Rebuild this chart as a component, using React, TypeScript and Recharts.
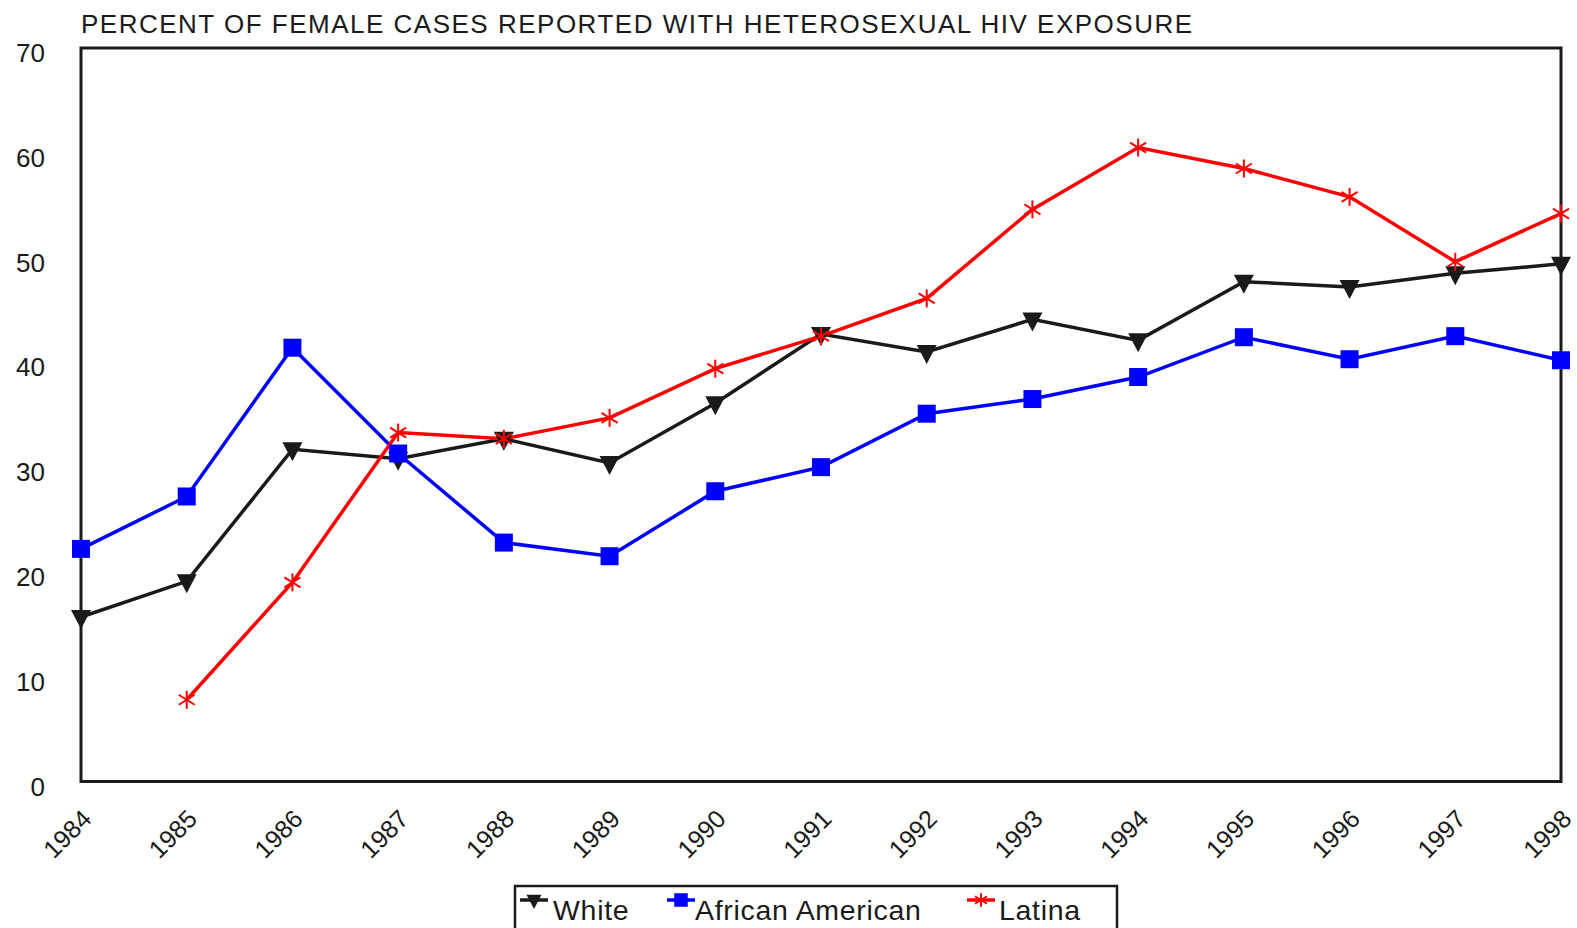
import { LineChart, Line, XAxis, YAxis, ReferenceArea } from "recharts";

const years = [
  "1984", "1985", "1986", "1987", "1988", "1989", "1990", "1991",
  "1992", "1993", "1994", "1995", "1996", "1997", "1998",
];
const white = [15.7, 19.1, 31.7, 30.8, 32.7, 30.4, 36.1, 42.7, 41.0, 44.1, 42.1, 47.7, 47.2, 48.5, 49.4];
const africanAmerican = [22.2, 27.2, 41.4, 31.3, 22.8, 21.5, 27.7, 30.0, 35.1, 36.5, 38.6, 42.4, 40.3, 42.5, 40.2];
const latina = [null, 7.8, 19.0, 33.3, 32.7, 34.7, 39.4, 42.5, 46.1, 54.6, 60.5, 58.5, 55.8, 49.6, 54.2];
const yTicks = [0, 10, 20, 30, 40, 50, 60, 70];

const title = "PERCENT OF FEMALE CASES REPORTED WITH HETEROSEXUAL HIV EXPOSURE";
const FONT = "'Liberation Sans', Arial, Helvetica, sans-serif";
const INK = "#1a1a1a";

const data = years.map((year, i) => ({
  year,
  white: white[i],
  africanAmerican: africanAmerican[i],
  latina: latina[i],
}));

type Marker = "triangle" | "square" | "star";

const series: { key: string; name: string; color: string; marker: Marker }[] = [
  { key: "white", name: "White", color: INK, marker: "triangle" },
  { key: "africanAmerican", name: "African American", color: "#0000ff", marker: "square" },
  { key: "latina", name: "Latina", color: "#ff0000", marker: "star" },
];

function drawMarker(kind: Marker, cx: number, cy: number, color: string, s = 1) {
  if (kind === "triangle") {
    return (
      <path
        d={`M${cx - 10 * s},${cy - 7 * s} L${cx + 10 * s},${cy - 7 * s} L${cx},${cy + 12 * s} Z`}
        fill={color}
      />
    );
  }
  if (kind === "square") {
    return <rect x={cx - 9 * s} y={cy - 9 * s} width={18 * s} height={18 * s} fill={color} />;
  }
  return (
    <g stroke={color} strokeWidth={2}>
      <line x1={cx} y1={cy - 9 * s} x2={cx} y2={cy + 9 * s} />
      <line x1={cx - 8 * s} y1={cy - 5 * s} x2={cx + 8 * s} y2={cy + 5 * s} />
      <line x1={cx - 8 * s} y1={cy + 5 * s} x2={cx + 8 * s} y2={cy - 5 * s} />
    </g>
  );
}

const makeDot = (kind: Marker, color: string) => (props: any) => {
  const { cx, cy, index, value } = props;
  if (value == null || cx == null || cy == null) return <g key={`e-${index}`} />;
  return <g key={`d-${index}`}>{drawMarker(kind, cx, cy, color)}</g>;
};

const XTick = ({ x, y, payload }: any) => {
  const px = x + 12;
  const py = y + 39;
  return (
    <text
      x={px}
      y={py}
      transform={`rotate(-45, ${px}, ${py})`}
      textAnchor="end"
      fontSize={25}
      fontFamily={FONT}
      fill={INK}
    >
      {payload.value}
    </text>
  );
};

const YTick = ({ x, y, payload }: any) => (
  <text x={x - 36} y={y + 14} textAnchor="end" fontSize={26} fontFamily={FONT} fill={INK}>
    {payload.value}
  </text>
);

const legendPos = [
  { icon: 520, text: 553 },
  { icon: 667, text: 695 },
  { icon: 967, text: 999 },
];

export default function App() {
  return (
    <div style={{ position: "absolute", left: 0, top: 0, width: 1577, height: 928, overflow: "hidden", background: "#fff" }}>
      <LineChart
        width={1577}
        height={928}
        data={data}
        margin={{ top: 48, right: 16, bottom: 0, left: 0 }}
      >
        <XAxis
          dataKey="year"
          scale="point"
          padding={{ left: 0, right: 0 }}
          height={146.5}
          tickSize={0}
          tickMargin={0}
          axisLine={false}
          tickLine={false}
          interval={0}
          tick={<XTick />}
        />
        <YAxis
          domain={[0, 70]}
          ticks={yTicks}
          width={81}
          tickSize={0}
          tickMargin={0}
          axisLine={false}
          tickLine={false}
          tick={<YTick />}
        />
        <ReferenceArea
          x1="1984"
          x2="1998"
          y1={0}
          y2={70}
          fill="none"
          fillOpacity={0}
          stroke={INK}
          strokeWidth={3}
          ifOverflow="visible"
        />
        {series.map((s) => (
          <Line
            key={s.key}
            type="linear"
            dataKey={s.key}
            name={s.name}
            stroke={s.color}
            strokeWidth={3.5}
            dot={makeDot(s.marker, s.color)}
            activeDot={false}
            connectNulls={false}
            isAnimationActive={false}
          />
        ))}
      </LineChart>
      <svg
        width={1577}
        height={928}
        style={{ position: "absolute", left: 0, top: 0, pointerEvents: "none" }}
      >
        <text x={81} y={33} fontSize={26} letterSpacing={1.5} fontFamily={FONT} fill={INK}>
          {title}
        </text>
        <rect x={515} y={886} width={602} height={60} fill="#fff" stroke={INK} strokeWidth={2.5} />
        {series.map((s, i) => (
          <g key={s.key}>
            <line
              x1={legendPos[i].icon}
              y1={900}
              x2={legendPos[i].icon + 28}
              y2={900}
              stroke={s.color}
              strokeWidth={3.5}
            />
            {drawMarker(s.marker, legendPos[i].icon + 14, 900, s.color, 0.75)}
            <text
              x={legendPos[i].text}
              y={920}
              fontSize={28.5}
              letterSpacing={0.7}
              fontFamily={FONT}
              fill={INK}
            >
              {s.name}
            </text>
          </g>
        ))}
      </svg>
    </div>
  );
}
